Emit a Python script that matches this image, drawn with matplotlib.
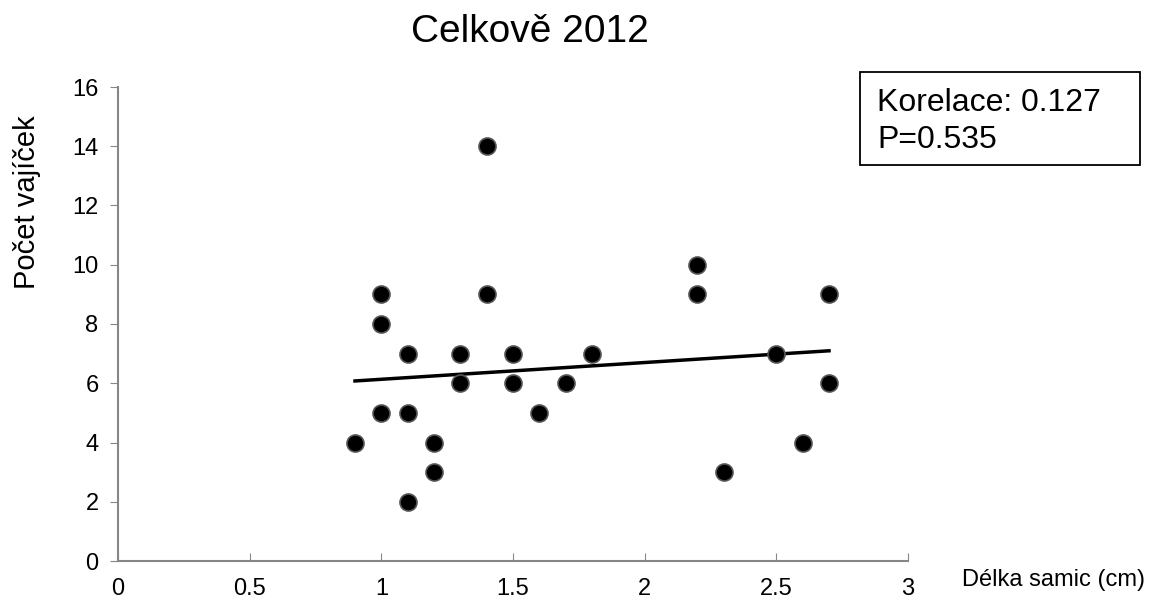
import numpy as np
import matplotlib.pyplot as plt
from matplotlib.patches import Rectangle

plt.rcParams['font.family'] = ['Liberation Sans', 'DejaVu Sans']

# délka samice (cm) a počet vajíček
delka = [0.9, 1.0, 1.0, 1.0, 1.1, 1.1, 1.1, 1.2, 1.2, 1.3, 1.3, 1.4, 1.4,
         1.5, 1.5, 1.6, 1.7, 1.8, 2.2, 2.2, 2.3, 2.5, 2.6, 2.7, 2.7]
vajicka = [4, 9, 8, 5, 7, 5, 2, 4, 3, 7, 6, 14, 9,
           7, 6, 5, 6, 7, 10, 9, 3, 7, 4, 9, 6]
korelace = 0.127
p_hodnota = 0.535

W, H = 1158, 602
fig = plt.figure(figsize=(W/100, H/100), dpi=100)
ax = fig.add_axes([118/W, 1-561/H, 790/W, 474/H])

ax.scatter(delka, vajicka, s=150, c='black', edgecolors='#555555',
           linewidths=1.2, zorder=3)

# lineární trend
k, q = np.polyfit(delka, vajicka, 1)
xs = np.array([min(delka), max(delka)])
ax.plot(xs, k*xs + q, color='black', lw=2.5, zorder=2)

ax.set_xlim(0, 3)
ax.set_ylim(0, 16)
ax.set_xticks(np.arange(0, 3.01, 0.5))
ax.set_xticklabels(['0', '0.5', '1', '1.5', '2', '2.5', '3'])
ax.set_yticks(range(0, 17, 2))

for s in ['top', 'right']:
    ax.spines[s].set_visible(False)
for s in ['left', 'bottom']:
    ax.spines[s].set_color('#868686')
    ax.spines[s].set_linewidth(1.5)
ax.tick_params(axis='x', direction='in', length=6, color='#868686',
               labelsize=17, pad=12)
ax.tick_params(axis='y', direction='out', length=6, color='#868686',
               labelsize=17, pad=8)

fig.text(530/W, 1-32/H, 'Celkově 2012', ha='center', va='center',
         fontsize=28)
fig.text(27/W, 1-202/H, 'Počet vajíček', rotation=90, ha='center',
         va='center', fontsize=21)
fig.text(1053/W, 1-580/H, 'Délka samic (cm)', ha='center',
         va='center', fontsize=17)

# rámeček s korelací
fig.patches.append(Rectangle((860/W, 1-165/H), 280/W, 93/H,
                             transform=fig.transFigure, fc='white',
                             ec='black', lw=1.3))
fig.text(877/W, 1-103/H, 'Korelace: %.3f' % korelace, ha='left',
         va='center', fontsize=23)
fig.text(877/W, 1-140/H, 'P=%.3f' % p_hodnota, ha='left',
         va='center', fontsize=23)

fig.savefig('out.png', dpi=100)
